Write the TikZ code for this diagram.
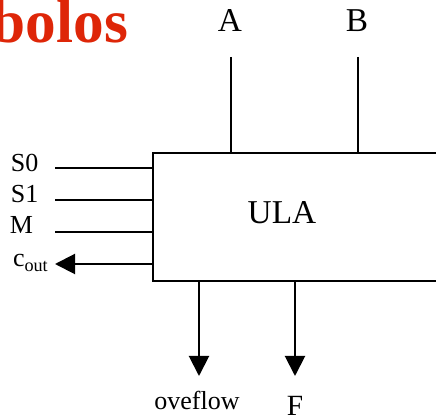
\documentclass[tikz,border=0pt]{standalone}
\usepackage{fontspec}
\setmainfont{Liberation Serif}
\usepackage{xcolor}
\usepackage{tikz}
\usetikzlibrary{arrows.meta, positioning, calc}
\definecolor{ULATitleRed}{RGB}{222, 38, 8}

\begin{document}
\begin{tikzpicture}[x=0.75pt, y=-0.75pt, line width=1.5pt,
    siglabel/.style={inner sep=0pt, font=\fontsize{19.5}{22}\selectfont},
    biglabel/.style={inner sep=0pt, font=\fontsize{25}{28}\selectfont},
    outarrow/.style={-{Triangle[length=15pt, width=15pt]}}]
  \useasboundingbox (0,0) rectangle (436,416);
  \clip (0,0) rectangle (436,416);
  % title, cut at the left edge
  \node[anchor=base east, inner sep=0pt, text=ULATitleRed,
        font=\fontsize{46}{50}\selectfont\bfseries] (title) at (129,43) {bolos};

  % the unit
  \node[draw, anchor=north west, minimum width=225pt, minimum height=96pt,
        inner sep=0pt] (ula) at (152,152) {};
  \node[biglabel, anchor=base] (ulatxt) at (282,224) {ULA};

  % operands
  \node[biglabel, anchor=base] (opA) at (230,32) {A};
  \node[biglabel, anchor=base] (opB) at (357,32) {B};
  \coordinate (opAend) at (231,57);
  \coordinate (opBend) at (358,57);
  \draw (opAend) -- (opAend |- ula.north);
  \draw (opBend) -- (opBend |- ula.north);

  % control lines
  \node[siglabel, anchor=base west] (selS0) at (10,172) {S0};
  \node[siglabel, anchor=base west] (selS1) at (10,203) {S1};
  \node[siglabel, anchor=base west] (modeM) at (9,234) {M};
  \node[siglabel, anchor=base west] (cout) at (12,267) {c\textsubscript{out}};
  \coordinate (selS0end) at (55,168);
  \coordinate (selS1end) at (55,200);
  \coordinate (modeMend) at (55,232);
  \coordinate (couttip) at (55,264);
  \draw (selS0end) -- (selS0end -| ula.west);
  \draw (selS1end) -- (selS1end -| ula.west);
  \draw (modeMend) -- (modeMend -| ula.west);
  \draw[outarrow] (couttip -| ula.west) -- (couttip);

  % results
  \coordinate (ovtip) at (199,376);
  \coordinate (restip) at (295,376);
  \draw[outarrow] (ovtip |- ula.south) -- (ovtip);
  \draw[outarrow] (restip |- ula.south) -- (restip);
  \node[siglabel, anchor=base] (ovflow) at (197,410) {oveflow};
  \node[inner sep=0pt, anchor=base, font=\fontsize{22}{24}\selectfont] (resF) at (295,416) {F};
\end{tikzpicture}
\end{document}
